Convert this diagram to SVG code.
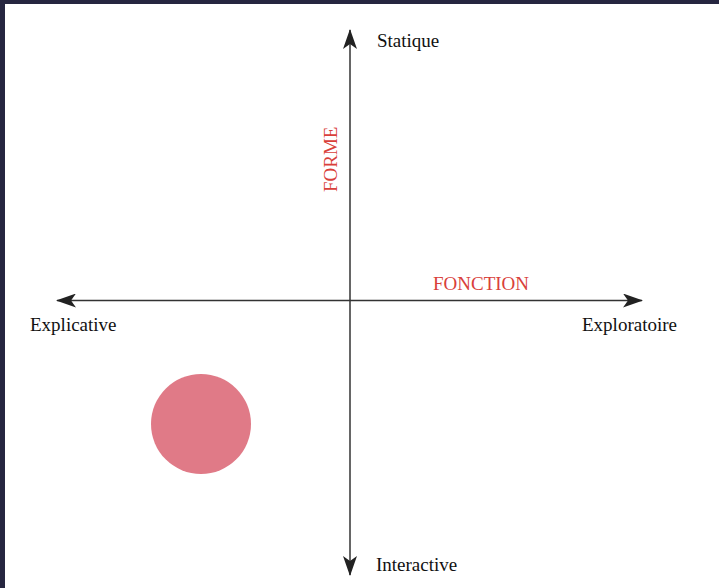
<svg xmlns="http://www.w3.org/2000/svg" width="719" height="588" viewBox="0 0 719 588">
<style>
.lbl{font-family:"Liberation Serif","Times New Roman",serif;font-size:19px;fill:#111}
.red{font-family:"Liberation Serif","Times New Roman",serif;font-size:19px;fill:#d9403a}
.axis{stroke:#333;stroke-width:1.5;fill:none}
</style>
<defs>
<marker id="ah" viewBox="0 0 20 14" refX="19" refY="7" markerWidth="20" markerHeight="14" markerUnits="userSpaceOnUse" orient="auto-start-reverse">
<path d="M0,0 L20,7 L0,14 L5,7 Z" fill="#222"/>
</marker>
</defs>
<rect x="0" y="0" width="719" height="588" fill="#ffffff"/>
<rect x="0" y="0" width="719" height="4" fill="#262640"/>
<rect x="0" y="0" width="5" height="588" fill="#262640"/>
<g id="connectors">
<line class="axis" x1="350" y1="575" x2="350" y2="30" marker-start="url(#ah)" marker-end="url(#ah)"/>
<line class="axis" x1="57" y1="300.5" x2="642" y2="300.5" marker-start="url(#ah)" marker-end="url(#ah)"/>
</g>
<g id="statique"><text class="lbl" x="377" y="47">Statique</text></g>
<g id="interactive"><text class="lbl" x="376" y="571">Interactive</text></g>
<g id="explicative"><text class="lbl" x="30" y="331">Explicative</text></g>
<g id="exploratoire"><text class="lbl" x="582" y="331">Exploratoire</text></g>
<g id="fonction"><text class="red" x="433" y="290">FONCTION</text></g>
<g id="forme"><text class="red" x="0" y="0" transform="translate(337,192) rotate(-90)">FORME</text></g>
<g id="circle"><circle cx="201" cy="424" r="50" fill="#e07a87"/></g>
</svg>
